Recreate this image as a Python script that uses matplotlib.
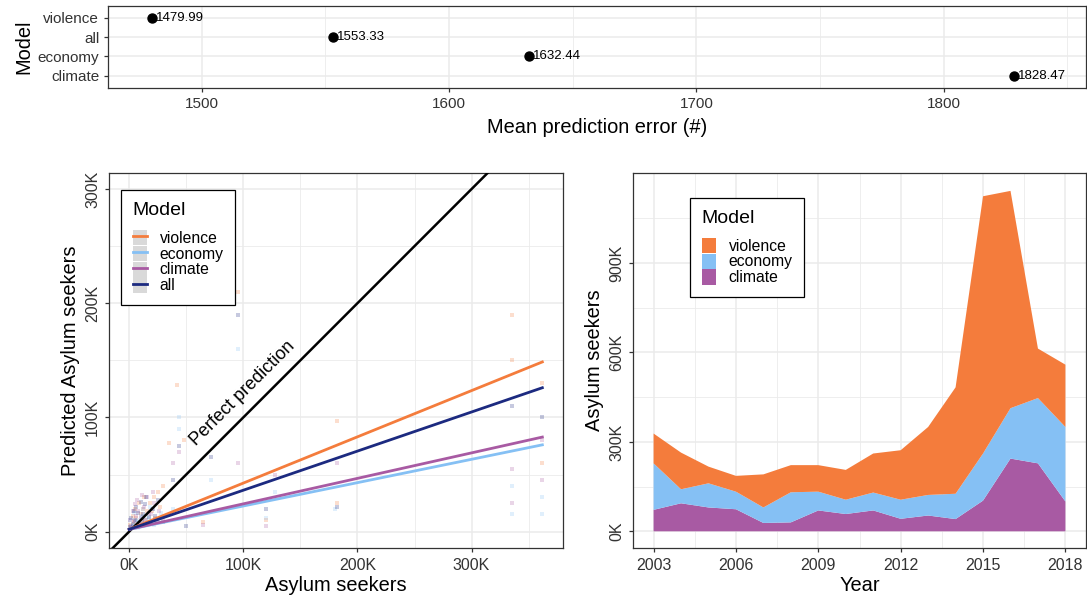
import matplotlib.pyplot as plt
from matplotlib.lines import Line2D
from matplotlib.patches import Patch
from matplotlib.ticker import FuncFormatter, MultipleLocator, FixedLocator

plt.rcParams['font.family'] = ['Liberation Sans', 'DejaVu Sans']

# --- top: mean prediction error per model
err_models = ["violence", "all", "economy", "climate"]
err_values = [1479.99, 1553.33, 1632.44, 1828.47]

# --- left: actual vs predicted (thousands)
violence_actual = [1, 2, 3, 4, 5, 6, 7, 8, 9, 10, 11, 12, 13, 15, 16, 18, 19, 20, 22, 23, 25, 27, 30, 35,
                   42, 48, 65, 95, 120, 182, 182, 335, 335, 362, 362]
violence_pred = [6, 3, 14, 8, 20, 12, 4, 6, 25, 15, 9, 20, 30, 10, 18, 25, 7, 18, 30, 12, 35, 22, 40, 78,
                 128, 80, 8, 210, 10, 97, 25, 150, 190, 60, 130]
economy_actual = [1, 1, 2, 3, 4, 5, 6, 7, 8, 9, 10, 11, 12, 14, 15, 17, 18, 20, 22, 24, 28, 38, 44, 44,
                  72, 95, 120, 128, 180, 335, 335, 362, 362]
economy_pred = [2, 10, 5, 6, 16, 4, 9, 10, 3, 8, 13, 14, 20, 7, 11, 12, 22, 20, 6, 10, 16, 20, 90, 100,
                45, 160, 12, 35, 20, 15, 40, 15, 30]
climate_actual = [1, 2, 3, 4, 5, 6, 7, 8, 9, 10, 11, 13, 14, 16, 17, 19, 21, 22, 24, 26, 30, 38, 44, 65,
                  95, 120, 128, 182, 335, 335, 362, 362]
climate_pred = [10, 5, 18, 9, 24, 14, 28, 18, 7, 12, 32, 22, 10, 30, 16, 15, 35, 25, 8, 18, 12, 60, 70, 6,
                60, 5, 50, 60, 55, 25, 45, 80]
all_actual = [1, 2, 3, 4, 5, 6, 8, 9, 10, 11, 12, 14, 15, 17, 18, 21, 23, 25, 30, 38, 44, 50, 72, 95,
              120, 182, 335, 362]
all_pred = [4, 12, 7, 18, 10, 22, 16, 5, 26, 9, 15, 24, 30, 13, 8, 20, 14, 28, 8, 45, 75, 5, 65, 190,
            20, 22, 110, 100]

# fitted lines: value at x=0 and x=362K
fit_x = [0, 362]
fit_violence = [2, 148.6]
fit_economy = [2, 76]
fit_climate = [2, 82.8]
fit_all = [2, 126]

# --- right: stacked asylum seekers by year (thousands)
years = list(range(2003, 2019))
climate = [72, 94, 80, 74, 28, 30, 70, 58, 70, 42, 53, 41, 103, 244, 228, 100]
economy = [156, 47, 81, 59, 52, 101, 63, 48, 60, 64, 69, 85, 158, 169, 219, 250]
violence = [100, 123, 56, 53, 111, 91, 89, 100, 131, 166, 228, 357, 863, 729, 166, 209]

c_violence = "#F47C3C"
c_economy = "#85C0F4"
c_climate = "#A85AA3"
c_all = "#1C2A80"
grid_major = "#EBEBEB"
border = "#333333"

W, H = 1087, 600
fig = plt.figure(figsize=(W / 100, H / 100), dpi=100)


def ax_at(l, t, r, b):
    return fig.add_axes([l / W, 1 - b / H, (r - l) / W, (b - t) / H])


def style(ax, size):
    ax.set_axisbelow(True)
    ax.grid(which="major", color=grid_major, lw=1.1)
    ax.grid(which="minor", color=grid_major, lw=0.6)
    for s in ax.spines.values():
        s.set_color(border)
        s.set_linewidth(0.9)
    ax.tick_params(which="major", length=3, width=0.9, color=border, labelsize=size, pad=3, labelcolor="#333333")
    ax.tick_params(which="minor", length=0)


def legend_box(ax, handles, labels, anchor):
    leg = ax.legend(handles, labels, title="Model", loc="upper left", bbox_to_anchor=anchor,
                    borderaxespad=0, fancybox=False, edgecolor="black", framealpha=1,
                    fontsize=11.3, title_fontsize=14, handlelength=0.9, handleheight=1.1,
                    labelspacing=0.0, handletextpad=0.8, borderpad=0.75)
    leg._legend_box.align = "left"
    leg._legend_box.sep = 8
    leg.get_frame().set_linewidth(0.9)
    return leg


# top panel
ax1 = ax_at(107.5, 6, 1086, 87.5)
ypos = [4, 3, 2, 1]
ax1.scatter(err_values, ypos, s=42, color="black", zorder=3)
for v, y in zip(err_values, ypos):
    ax1.annotate(f"{v:.2f}", (v, y), xytext=(2.5, 0), textcoords="offset points",
                 ha="left", va="center", fontsize=9.5)
ax1.set_xlim(1462, 1857.5)
ax1.set_ylim(0.4, 4.6)
ax1.set_yticks(ypos)
ax1.set_yticklabels(err_models)
ax1.xaxis.set_major_locator(MultipleLocator(100))
ax1.xaxis.set_minor_locator(FixedLocator([1550, 1650, 1750, 1850]))
style(ax1, 11)
ax1.tick_params(axis="x", pad=4)
ax1.set_xlabel("Mean prediction error (#)", fontsize=14.4, labelpad=5)
ax1.set_ylabel("Model", fontsize=14.4, labelpad=3)

# left panel
ax2 = ax_at(108.5, 172.7, 563, 548.3)
for xs, ys, c in [(violence_actual, violence_pred, c_violence), (economy_actual, economy_pred, c_economy),
                  (climate_actual, climate_pred, c_climate), (all_actual, all_pred, c_all)]:
    ax2.scatter(xs, ys, s=5, marker="s", color=c, alpha=0.25, lw=0, zorder=2)
ax2.axline((0, 0), slope=1, color="black", lw=1.8, zorder=3)
for ys, c in [(fit_violence, c_violence), (fit_economy, c_economy), (fit_climate, c_climate), (fit_all, c_all)]:
    ax2.plot(fit_x, ys, color=c, lw=2, zorder=4)
ax2.text(99, 121, "Perfect prediction", rotation=45, rotation_mode="anchor",
         ha="center", va="center", fontsize=13)
ax2.set_xlim(-18.1, 380.1)
ax2.set_ylim(-14.6, 314.3)
ax2.xaxis.set_major_locator(MultipleLocator(100))
ax2.xaxis.set_minor_locator(FixedLocator([50, 150, 250, 350]))
ax2.yaxis.set_major_locator(MultipleLocator(100))
ax2.yaxis.set_minor_locator(FixedLocator([50, 150, 250]))
fmt = FuncFormatter(lambda v, p: f"{v:.0f}K")
ax2.xaxis.set_major_formatter(fmt)
ax2.yaxis.set_major_formatter(fmt)
style(ax2, 11.5)
ax2.tick_params(axis="x", pad=4)
for lab in ax2.get_yticklabels():
    lab.set_rotation(90)
    lab.set_va("center")
ax2.set_xlabel("Asylum seekers", fontsize=14.4, labelpad=2)
ax2.set_ylabel("Predicted Asylum seekers", fontsize=14.4, labelpad=4)
grey = "#D9D9D9"
h2 = [(Patch(fc=grey, ec="none"), Line2D([], [], color=c, lw=2))
      for c in [c_violence, c_economy, c_climate, c_all]]
legend_box(ax2, h2, ["violence", "economy", "climate", "all"], (0.0275, 0.954))

# right panel
ax3 = ax_at(633, 172.7, 1086, 548.3)
ax3.stackplot(years, climate, economy, violence, colors=[c_climate, c_economy, c_violence],
              lw=0, zorder=2)
ax3.set_xlim(2002.25, 2018.75)
ax3.set_ylim(-57, 1203)
ax3.xaxis.set_major_locator(FixedLocator([2003, 2006, 2009, 2012, 2015, 2018]))
ax3.xaxis.set_minor_locator(FixedLocator([2004.5, 2007.5, 2010.5, 2013.5, 2016.5]))
ax3.yaxis.set_major_locator(FixedLocator([0, 300, 600, 900]))
ax3.yaxis.set_minor_locator(FixedLocator([150, 450, 750, 1050]))
ax3.yaxis.set_major_formatter(fmt)
style(ax3, 11.5)
ax3.tick_params(axis="x", pad=4)
for lab in ax3.get_yticklabels():
    lab.set_rotation(90)
    lab.set_va("center")
ax3.set_xlabel("Year", fontsize=14.4, labelpad=2)
ax3.set_ylabel("Asylum seekers", fontsize=14.4, labelpad=4)
h3 = [Patch(fc=c, ec="none") for c in [c_violence, c_economy, c_climate]]
legend_box(ax3, h3, ["violence", "economy", "climate"], (0.126, 0.933))

fig.savefig("out.png", dpi=100)
